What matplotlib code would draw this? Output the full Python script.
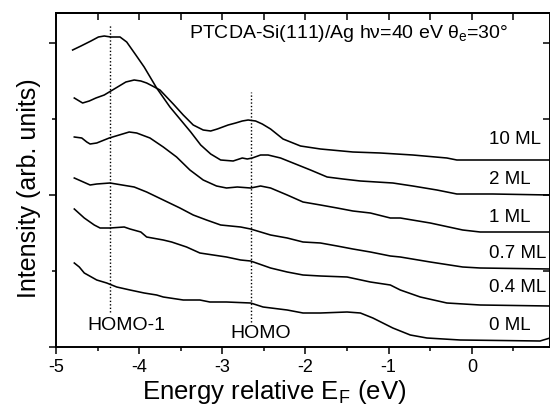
import matplotlib
matplotlib.use("Agg")
import matplotlib.pyplot as plt
from matplotlib.ticker import MultipleLocator, NullFormatter

plt.rcParams["font.family"] = ["Liberation Sans", "DejaVu Sans"]
plt.rcParams["mathtext.fontset"] = "custom"
plt.rcParams["mathtext.rm"] = "Liberation Sans"
plt.rcParams["mathtext.default"] = "regular"
plt.rcParams["axes.unicode_minus"] = False

# spectra (energy in eV, intensity in arb. units, already offset)
e_2ml = [-4.80, -4.70, -4.58, -4.49, -4.42, -4.34, -4.23, -4.15, -4.04, -3.94, -3.79, -3.63,
         -3.47, -3.38, -3.26, -3.14, -3.02, -2.87, -2.76, -2.70, -2.64, -2.54, -2.45, -2.30,
         -2.15, -1.94, -1.74, -1.55, -1.34, -0.95, -0.71, -0.42, -0.18, 0.25, 0.94]
i_2ml = [297, 301, 306, 310, 311, 310, 310, 305, 292, 280, 259, 240,
         224, 215, 202, 193, 187, 186, 189, 188, 189, 192, 192, 189,
         184, 177, 170, 168, 166, 164, 161, 157, 153, 153, 152]

e_10ml = [-4.78, -4.72, -4.68, -4.60, -4.52, -4.42, -4.34, -4.24, -4.16, -4.06, -3.98, -3.91,
          -3.84, -3.75, -3.67, -3.59, -3.47, -3.35, -3.23, -3.14, -3.06, -2.93, -2.84, -2.76,
          -2.69, -2.60, -2.52, -2.42, -2.27, -2.06, -1.82, -1.43, -1.10, -0.71, -0.30, -0.18, 0.94]
i_10ml = [249, 246, 244, 246, 249, 252, 256, 261, 265, 267, 266, 264,
          261, 257, 250, 243, 232, 222, 217, 216, 218, 222, 224, 226,
          227, 226, 223, 218, 208, 201, 198, 195, 194, 192, 189, 187, 187]

e_1ml = [-4.78, -4.69, -4.63, -4.59, -4.51, -4.36, -4.24, -4.12, -4.03, -3.87, -3.71, -3.55,
         -3.39, -3.23, -3.07, -2.95, -2.82, -2.66, -2.54, -2.42, -2.22, -2.03, -1.82, -1.62,
         -1.43, -1.22, -0.98, -0.86, -0.50, -0.11, 0.10, 0.94]
i_1ml = [210, 209, 205, 203, 204, 209, 212, 215, 214, 209, 200, 190,
         177, 167, 161, 159, 160, 159, 161, 159, 152, 145, 142, 139,
         136, 134, 129, 129, 124, 117, 115, 115]

e_07ml = [-4.78, -4.59, -4.51, -4.35, -4.06, -3.91, -3.71, -3.51, -3.35, -3.19, -3.02, -2.78,
          -2.66, -2.42, -2.22, -2.03, -1.82, -1.62, -1.43, -1.22, -0.98, -0.86, -0.50, -0.11,
          0.10, 0.94]
i_07ml = [169, 162, 163, 164, 160, 155, 147, 139, 132, 127, 122, 120,
          118, 112, 109, 105, 104, 101, 98, 95, 91, 90, 85, 80,
          79, 78]

e_04ml = [-4.78, -4.66, -4.54, -4.47, -4.35, -4.18, -4.11, -3.98, -3.91, -3.71, -3.61, -3.43,
          -3.27, -2.95, -2.78, -2.66, -2.42, -2.22, -2.03, -1.82, -1.50, -1.22, -0.98, -0.86,
          -0.62, -0.30, 0.10, 0.94]
i_04ml = [138, 129, 122, 119, 119, 120, 118, 115, 110, 107, 105, 100,
          94, 90, 87, 86, 79, 75, 72, 71, 70, 65, 62, 57,
          50, 44, 42, 41]

e_0ml = [-4.78, -4.72, -4.66, -4.51, -4.39, -4.27, -4.11, -3.94, -3.79, -3.71, -3.47, -3.27,
         -3.15, -2.95, -2.66, -2.51, -2.22, -2.03, -1.82, -1.50, -1.34, -1.19, -0.95, -0.74,
         -0.54, -0.14, 0.82, 0.94]
i_0ml = [84, 80, 74, 67, 64, 60, 57, 54, 52, 50, 47, 47,
         45, 45, 44, 40, 37, 34, 34, 35, 34, 29, 19, 12,
         9, 7, 6, 9]

labels = ["10 ML", "2 ML", "1 ML", "0.7 ML", "0.4 ML", "0 ML"]
label_y = [208, 168, 130, 94, 59, 22]

homo1_e = -4.35
homo_e = -2.66

fig = plt.figure(figsize=(5.5, 4.07), dpi=100)
ax = fig.add_axes([56 / 550, 60 / 407, 494 / 550, 334 / 407])

for e, i in [(e_10ml, i_10ml), (e_2ml, i_2ml), (e_1ml, i_1ml),
             (e_07ml, i_07ml), (e_04ml, i_04ml), (e_0ml, i_0ml)]:
    ax.plot(e, i, color="black", lw=1.15)

ax.plot([homo1_e, homo1_e], [35, 322], color="black", lw=1.0, ls=(0, (1, 1.5)))
ax.plot([homo_e, homo_e], [25, 255], color="black", lw=1.0, ls=(0, (1, 1.5)))

for lab, y in zip(labels, label_y):
    ax.text(0.21, y, lab, fontsize=13.5, ha="left", va="center")

ax.text(-4.15, 22, "HOMO-1", fontsize=14, ha="center", va="center")
ax.text(-2.54, 14, "HOMO", fontsize=14, ha="center", va="center")
ax.text(-3.40, 314, "PTCDA-Si(111)/Ag hν=40 eV θ$_\\mathregular{e}$=30°",
        fontsize=14, ha="left", va="center")

ax.set_xlim(-5, 0.94)
ax.set_ylim(0, 334)
ax.xaxis.set_major_locator(MultipleLocator(1))
ax.xaxis.set_minor_locator(MultipleLocator(0.5))
ax.yaxis.set_major_locator(MultipleLocator(152))
ax.yaxis.set_minor_locator(MultipleLocator(76))
ax.yaxis.set_major_formatter(NullFormatter())

ax.tick_params(axis="both", which="both", direction="out", width=1.1)
ax.tick_params(which="major", length=5, labelsize=13)
ax.tick_params(which="minor", length=3)
for sp in ax.spines.values():
    sp.set_linewidth(1.4)

# mirrored ticks pointing inward on top and right
top = ax.secondary_xaxis("top")
top.xaxis.set_major_locator(MultipleLocator(1))
top.xaxis.set_minor_locator(MultipleLocator(0.5))
top.xaxis.set_major_formatter(NullFormatter())
top.tick_params(which="both", direction="in", width=1.1, length=5)
top.spines["top"].set_linewidth(1.4)
right = ax.secondary_yaxis("right")
right.yaxis.set_major_locator(MultipleLocator(152))
right.yaxis.set_minor_locator(MultipleLocator(76))
right.yaxis.set_major_formatter(NullFormatter())
right.tick_params(which="both", direction="in", width=1.1, length=5)

ax.set_xlabel("Energy relative E$_\\mathregular{F}$ (eV)", fontsize=18.5)
ax.xaxis.set_label_coords((274 - 56) / 494, -0.092)
ax.set_ylabel("Intensity (arb. units)", fontsize=18)
ax.yaxis.set_label_coords(-0.03, (347 - 188) / 334)

fig.savefig("out.png", dpi=100)
